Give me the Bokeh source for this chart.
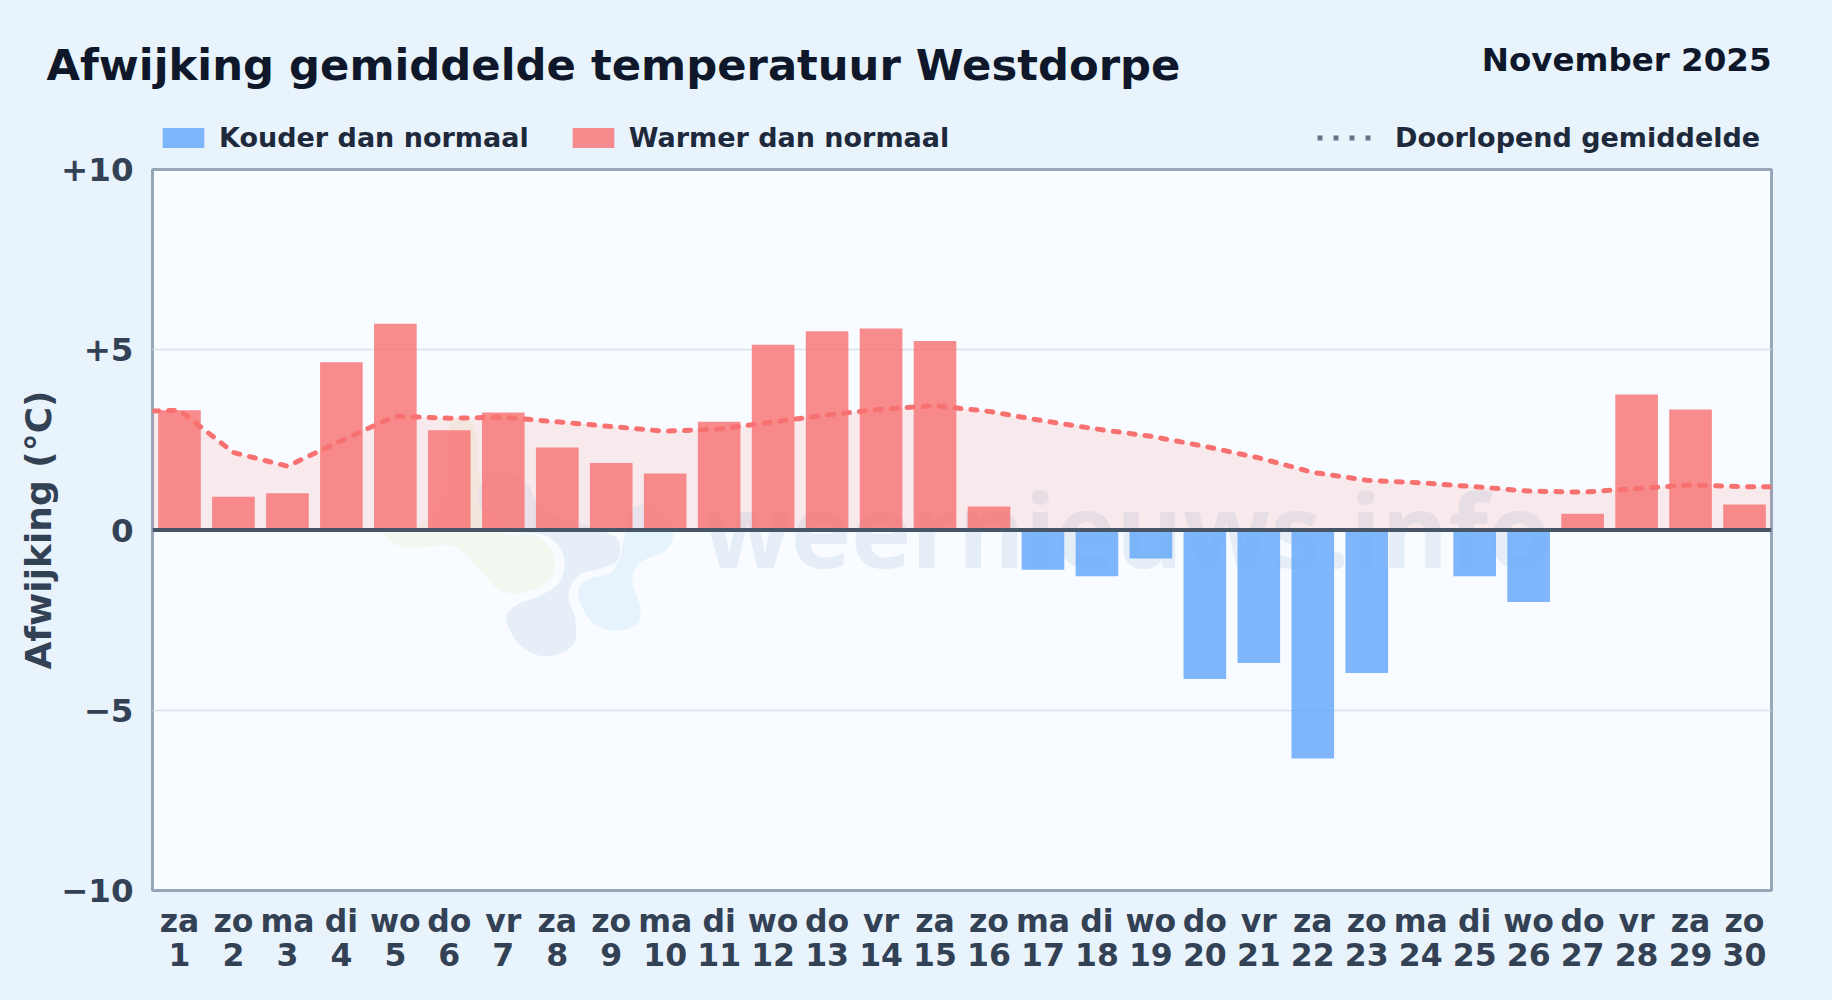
from bokeh.plotting import figure
from bokeh.embed import file_html
from bokeh.resources import INLINE
from bokeh.layouts import column
from bokeh.models import ColumnDataSource, FixedTicker, Span, Legend, LegendItem, LinearAxis, Range1d
from bokeh.core.properties import value

title_text = "Afwijking gemiddelde temperatuur Westdorpe"
period_text = "November 2025"
y_label = "Afwijking (°C)"
watermark = "weernieuws.info"

days = list(range(1, 31))
weekdays = ["za","zo","ma","di","wo","do","vr","za","zo","ma","di","wo","do","vr","za",
            "zo","ma","di","wo","do","vr","za","zo","ma","di","wo","do","vr","za","zo"]
deviation = [3.32,0.92,1.02,4.65,5.72,2.77,3.26,2.29,1.86,1.57,3.00,5.14,5.51,5.59,5.24,
             0.65,-1.10,-1.28,-0.79,-4.13,-3.69,-6.34,-3.97,0.0,-1.28,-2.00,0.45,3.76,3.34,0.71]
running_x = [0.5] + days + [30.5]
running_mean = [3.30,3.32,2.15,1.77,2.48,3.16,3.10,3.13,3.00,2.87,2.74,2.80,3.00,3.19,3.35,3.45,
                3.29,3.03,2.80,2.60,2.32,2.00,1.60,1.38,1.31,1.20,1.08,1.05,1.15,1.25,1.20,1.20]
y_ticks = [-10, -5, 0, 5, 10]
y_tick_labels = {-10: "−10", -5: "−5", 0: "0", 5: "+5", 10: "+10"}

FONT = "DejaVu Sans"
BG = "#e8f3fc"
W, H = 1832, 1000
HEAD = 154
OVERLAP = 10
L, R, T, B = 152, 61, 169, 110

# Header: title, period and legends
head = figure(width=W, height=HEAD, output_backend="svg", toolbar_location=None,
              x_range=Range1d(0, W), y_range=Range1d(HEAD, 0),
              x_axis_location=None, y_axis_location=None, frame_align=False,
              min_border=0, background_fill_color=BG, border_fill_color=BG)
head.outline_line_color = None
head.grid.visible = False
head.text(x=[46], y=[64], text=[title_text], text_font=value(FONT), text_font_style="bold",
          text_font_size=value("43.3px"), text_color="#0f172a", text_baseline="middle", text_align="left")
head.text(x=[W - R], y=[59], text=[period_text], text_font=value(FONT), text_font_style="bold",
          text_font_size=value("32.5px"), text_color="#0f172a", text_baseline="middle", text_align="right")

# Legend keys: their data lie outside the header's view, only the keys show
key_cold = head.vbar(x=[-500], top=[-500], bottom=[-510], width=1, fill_color="#60a5fa", fill_alpha=0.8, line_color=None)
key_warm = head.vbar(x=[-500], top=[-500], bottom=[-510], width=1, fill_color="#f87171", fill_alpha=0.8, line_color=None)
key_mean = head.line(x=[-500, -400], y=[-500, -500], line_color="#64748b", line_width=5, line_dash="5 11")
legend_style = dict(orientation="horizontal", padding=0, margin=0, border_line_color=None,
                    background_fill_alpha=0, label_text_font=FONT, label_text_font_style="bold",
                    label_text_font_size="27px", label_text_color="#1e293b")
head.add_layout(Legend(items=[LegendItem(label="Kouder dan normaal", renderers=[key_cold]),
                              LegendItem(label="Warmer dan normaal", renderers=[key_warm])],
                       location=(157, 1), spacing=38, glyph_width=52, glyph_height=25, label_standoff=10,
                       **legend_style), "center")
head.add_layout(Legend(items=[LegendItem(label="Doorlopend gemiddelde", renderers=[key_mean])],
                       location=(1317, 1), glyph_width=58, glyph_height=19, label_standoff=20,
                       **legend_style), "center")

# Main chart; its top border lies transparently over the header's last pixels
p = figure(width=W, height=H - HEAD + OVERLAP, output_backend="svg", toolbar_location=None,
           x_range=(0.5, 30.5), y_range=(-10, 10), frame_align=False,
           min_border_left=L, min_border_right=R, min_border_top=T - HEAD + OVERLAP, min_border_bottom=B,
           background_fill_color="#f8fbff", border_fill_alpha=0)
p.styles = {"margin-top": f"-{OVERLAP}px"}

p.outline_line_color = "#98a6ba"
p.outline_line_width = 3

p.xgrid.visible = False
p.ygrid.ticker = FixedTicker(ticks=y_ticks)
p.ygrid.grid_line_color = "#d8e1e9"
p.ygrid.grid_line_width = 1.5

def style_axis(ax, size):
    ax.axis_line_color = None
    ax.major_tick_line_color = None
    ax.minor_tick_line_color = None
    ax.major_label_text_font = FONT
    ax.major_label_text_font_style = "bold"
    ax.major_label_text_color = "#334155"
    ax.major_label_text_font_size = size

style_axis(p.yaxis[0], "32.5px")
p.yaxis[0].ticker = FixedTicker(ticks=y_ticks)
p.yaxis[0].major_label_overrides = y_tick_labels
p.yaxis[0].major_label_standoff = 13
p.yaxis[0].axis_label = y_label
p.yaxis[0].axis_label_text_font = FONT
p.yaxis[0].axis_label_text_font_style = "bold"
p.yaxis[0].axis_label_text_font_size = "36px"
p.yaxis[0].axis_label_text_color = "#334155"
p.yaxis[0].axis_label_standoff = -1

style_axis(p.xaxis[0], "31.5px")
p.xaxis[0].ticker = FixedTicker(ticks=days)
p.xaxis[0].major_label_overrides = {d: w for d, w in zip(days, weekdays)}
p.xaxis[0].major_label_standoff = 6
day_axis = LinearAxis(ticker=FixedTicker(ticks=days))
style_axis(day_axis, "31.5px")
day_axis.major_label_standoff = -5
p.add_layout(day_axis, "below")

# Faint watermark (decoration only), given in page pixels
def px_to_data(px, py):
    return 0.5 + (px - L) / ((W - L - R) / 30), 10 - (py - T) / ((H - T - B) / 20)

def blob(pts, n=10):
    xs, ys = [], []
    m = len(pts)
    for i in range(m):
        p0, p1, p2, p3 = pts[i - 1], pts[i], pts[(i + 1) % m], pts[(i + 2) % m]
        for k in range(n):
            t = k / n
            c = [0.5 * (2 * p1[a] + (p2[a] - p0[a]) * t + (2 * p0[a] - 5 * p1[a] + 4 * p2[a] - p3[a]) * t * t
                        + (3 * p1[a] - p0[a] - 3 * p2[a] + p3[a]) * t ** 3) for a in (0, 1)]
            x, y = px_to_data(*c)
            xs.append(x); ys.append(y)
    return xs, ys

logo_grey = [(495,472),(525,482),(545,510),(600,530),(618,540),(617,560),(600,568),(578,575),(568,595),(575,620),
             (572,645),(545,656),(520,645),(506,620),(515,605),(540,595),(560,580),(563,555),(545,535),(510,530),(485,515),(478,490)]
logo_blue = [(650,505),(672,530),(665,550),(640,562),(632,580),(640,610),(635,625),(610,630),(590,620),(578,595),
             (585,580),(610,572),(620,555),(625,530),(630,510)]
logo_green = [(383,530),(400,546),(430,546),(455,546),(480,570),(500,590),(525,592),(550,578),(553,555),(535,535),
              (500,530),(480,480),(475,430),(460,417),(448,430),(445,490),(420,525)]
for pts, col in ((logo_green, "#f2f8ef"), (logo_grey, "#e6eff8"), (logo_blue, "#e6f3fd")):
    xs, ys = blob(pts)
    p.patch(xs, ys, fill_color=col, line_color=None, level="underlay")

wx, wy = px_to_data(703, 528)
p.text(x=[wx], y=[wy], text=[watermark], text_font=value("Open Sans"), text_font_style="bold",
       text_font_size=value("102px"), text_color="#e5edf6", text_alpha=1,
       text_baseline="alphabetic", text_align="left", level="underlay")

# Area and running mean
p.varea(x=running_x, y1=[0] * len(running_x), y2=running_mean, fill_color="#f87171", fill_alpha=0.13)

# Bars
cold = ColumnDataSource(dict(x=[d for d, v in zip(days, deviation) if v < 0], top=[v for v in deviation if v < 0]))
warm = ColumnDataSource(dict(x=[d for d, v in zip(days, deviation) if v > 0], top=[v for v in deviation if v > 0]))
p.vbar(x="x", top="top", bottom=0, width=0.79, source=cold, fill_color="#60a5fa", fill_alpha=0.8, line_color=None)
p.vbar(x="x", top="top", bottom=0, width=0.79, source=warm, fill_color="#f87171", fill_alpha=0.8, line_color=None)

p.line(running_x, running_mean, line_color="#f87171", line_width=5, line_dash="6 10", line_cap="round")

p.add_layout(Span(location=0, dimension="width", line_color="#475569", line_width=4))

page = column(head, p, spacing=0)
page.styles = {"position": "fixed", "left": "0px", "top": "0px", "background": BG}

open("out.html", "w").write(file_html(page, INLINE))
